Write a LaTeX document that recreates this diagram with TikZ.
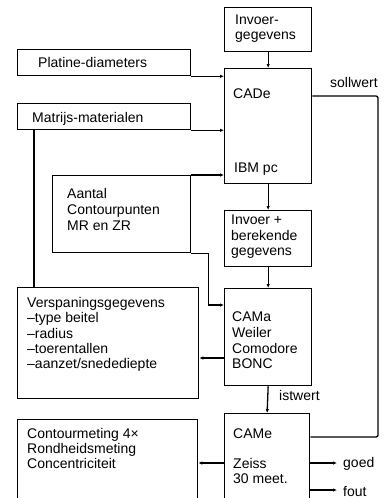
\documentclass[tikz,border=0pt]{standalone}
\usepackage{fontspec}
\setmainfont{Liberation Sans}
\usetikzlibrary{arrows.meta}
\begin{document}
\begin{tikzpicture}[x=1pt,y=-1pt,
  box/.style={draw,line width=1.3pt,anchor=north west,inner sep=0pt},
  lbl/.style={anchor=base west,inner sep=0pt,font=\fontsize{14}{16}\selectfont},
  conn/.style={line width=1.3pt},
  arr/.style={conn,-{Latex[length=4pt,width=3.5pt]}}]
\useasboundingbox (0,0) rectangle (385,498);
% boxes
\node[box,minimum width=87pt,minimum height=44pt] (inv1) at (224,7) {};
\node[box,minimum width=173pt,minimum height=26pt] (plat) at (17,49) {};
\node[box,minimum width=87pt,minimum height=115pt] (cade) at (224,68) {};
\node[box,minimum width=173pt,minimum height=26pt] (matr) at (17,103) {};
\node[box,minimum width=138pt,minimum height=77pt] (aant) at (52,175) {};
\node[box,minimum width=87pt,minimum height=56pt] (inv2) at (224,210) {};
\node[box,minimum width=87pt,minimum height=97pt] (cama) at (224,288) {};
\node[box,minimum width=181pt,minimum height=111pt] (versp) at (17,287) {};
\node[box,minimum width=85pt,minimum height=86pt] (came) at (224,413) {};
\node[box,minimum width=180pt,minimum height=80pt] (cont) at (17,419) {};
% texts
\node[lbl] (t1) at (235,24) {Invoer-};
\node[lbl] (t2) at (235,39) {gegevens};
\node[lbl] (t3) at (38,67) {Platine-diameters};
\node[lbl] (t4) at (233,98) {CADe};
\node[lbl] (t5) at (32,122) {Matrijs-materialen};
\node[lbl] (t6) at (234,172) {IBM pc};
\node[lbl] (t7) at (67,198) {Aantal};
\node[lbl] (t8) at (67,214) {Contourpunten};
\node[lbl] (t9) at (67,230) {MR en ZR};
\node[lbl] (t10) at (231,224) {Invoer +};
\node[lbl] (t11) at (231,240) {berekende};
\node[lbl] (t12) at (231,255) {gegevens};
\node[lbl] (t13) at (232,321) {CAMa};
\node[lbl] (t14) at (232,337) {Weiler};
\node[lbl] (t15) at (232,353) {Comodore};
\node[lbl] (t16) at (232,368) {BONC};
\node[lbl] (t17) at (27,307) {Verspaningsgegevens};
\node[lbl] (t18) at (27,322) {–type beitel};
\node[lbl] (t19) at (27,338) {–radius};
\node[lbl] (t20) at (27,353) {–toerentallen};
\node[lbl] (t21) at (27,368) {–aanzet/snedediepte};
\node[lbl] (t22) at (279,400) {istwert};
\node[lbl] (t23) at (233,438) {CAMe};
\node[lbl] (t24) at (233,468) {Zeiss};
\node[lbl] (t25) at (233,483) {30 meet.};
\node[lbl] (t26) at (27,438) {Contourmeting 4×};
\node[lbl] (t27) at (27,453) {Rondheidsmeting};
\node[lbl] (t28) at (27,468) {Concentriciteit};
\node[lbl] (t29) at (343,467) {goed};
\node[lbl] (t30) at (343,496) {fout};
\node[lbl] (t31) at (330,87) {sollwert};
% free ends
\coordinate (goedend) at (337,463);
\coordinate (foutend) at (337,490);
% connectors
\draw[arr] (inv1.south) -- (cade.north);
\draw[arr] (plat.south east) -- (plat.south east -| cade.west);
\draw[arr] (matr.south east) -- (matr.south east -| cade.west);
\draw[conn] (matr.south west) ++(17,0) coordinate (mleft) -- (mleft |- versp.north);
\draw[arr] (aant.north east) -- (aant.north east -| cade.west);
\draw[arr] (aant.south east) -- ++(17,0) coordinate (ak) -- (ak |- 0,305) -- (cama.west |- 0,305);
\draw[arr] (cade.south) -- (inv2.north);
\draw[arr] (inv2.south) -- (cama.north);
\draw[arr] (cama.west |- 0,358) -- (versp.east |- 0,358);
\draw[arr] (cama.south) -- (came.north);
\draw[conn,rounded corners=2pt] (cade.east |- 0,96) -- (378,96) -- (378,437) -- (came.east |- 0,437);
\draw[arr] (came.west |- goedend) -- (cont.east |- goedend);
\draw[arr] (came.east |- goedend) -- (goedend);
\draw[arr] (came.east |- foutend) -- (foutend);
\end{tikzpicture}
\end{document}
